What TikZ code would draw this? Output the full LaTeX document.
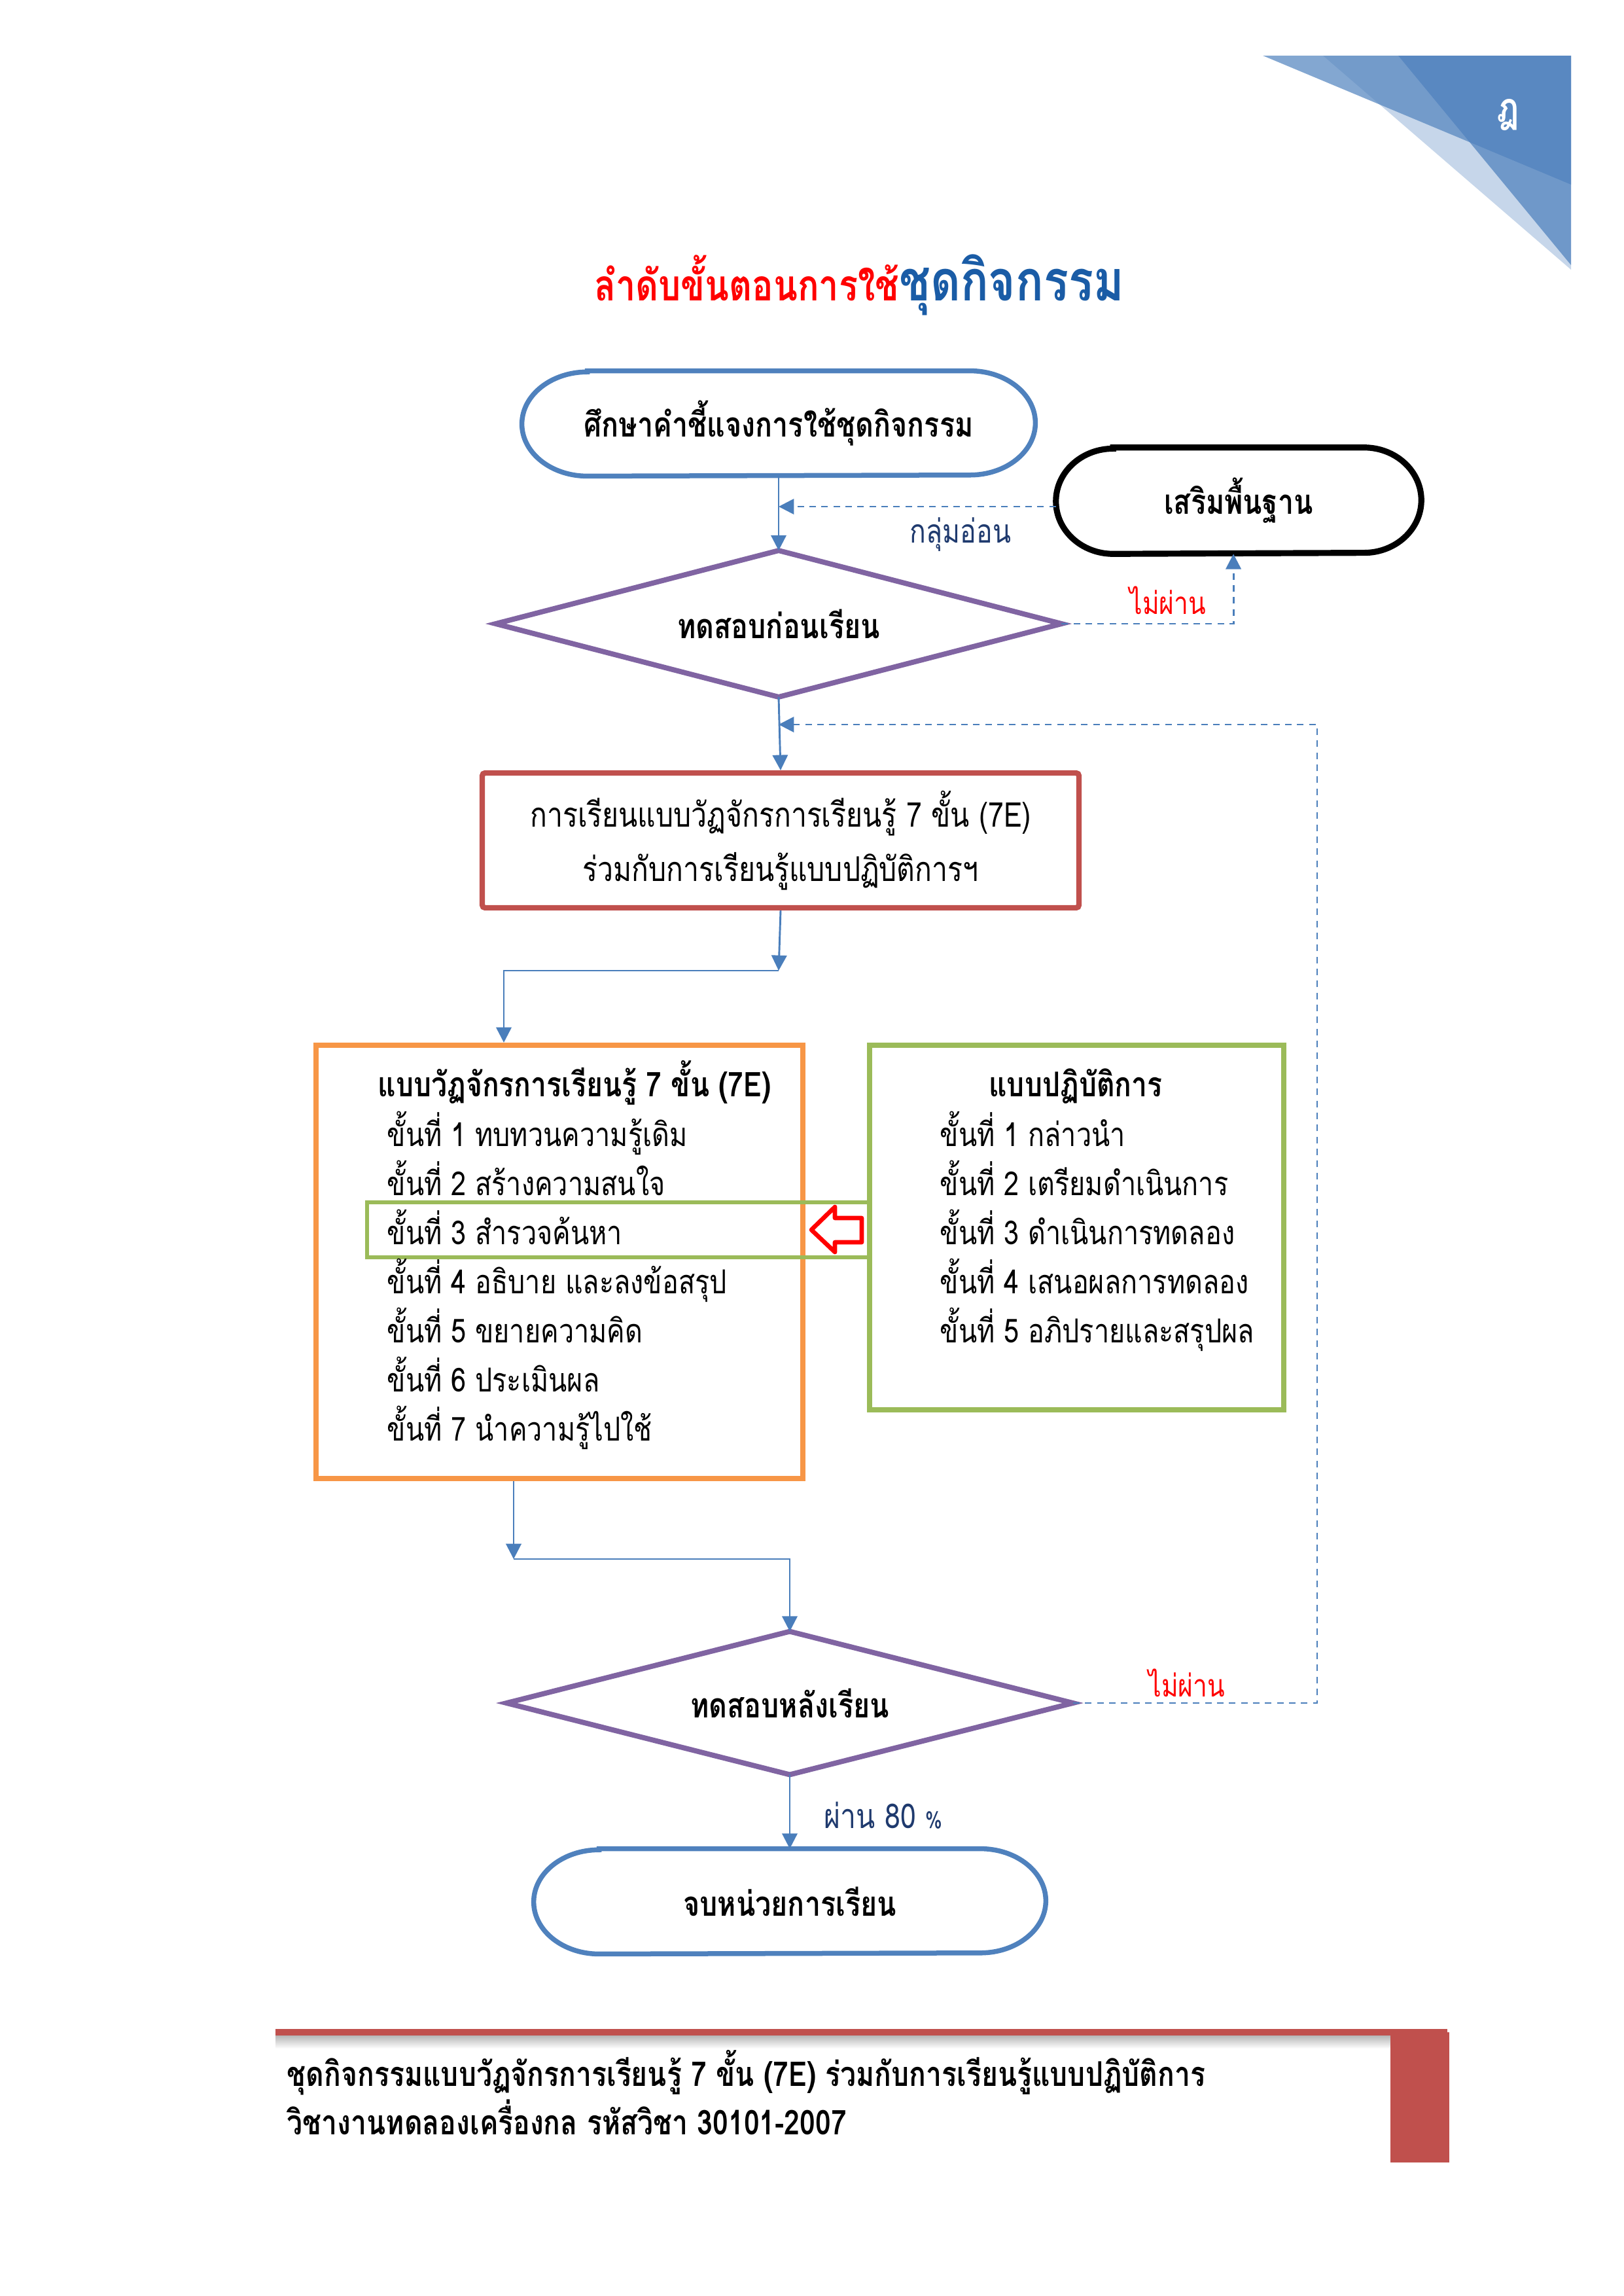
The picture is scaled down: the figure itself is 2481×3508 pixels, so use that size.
\documentclass[tikz,border=0pt]{standalone}
\usepackage{fontspec}
\setmainfont{Loma}[Script=Thai, FakeStretch=0.82]
\usetikzlibrary{arrows.meta,calc}
\definecolor{accblue}{HTML}{4F81BD}
\definecolor{connblue}{HTML}{4A7EBB}
\definecolor{accpurple}{HTML}{8064A2}
\definecolor{accred}{HTML}{C0504D}
\definecolor{accorange}{HTML}{F79646}
\definecolor{accgreen}{HTML}{9BBB59}
\definecolor{navy}{HTML}{1F3A6E}
\definecolor{titleblue}{HTML}{1A5CA6}
\definecolor{pureRed}{HTML}{FF0000}
\newcommand\drawterm[4]{%
  \draw[#1] ([xshift=#3]#2.north west) -- ([xshift=-#3]#2.north east)
    arc[start angle=90,end angle=-90,x radius=#3,y radius=#4]
    -- ([xshift=#3]#2.south west)
    arc[start angle=270,end angle=90,x radius=#3,y radius=#4] -- cycle;}
\newcommand\drawdiam[2]{%
  \draw[#1] (#2.north) -- (#2.east) -- (#2.south) -- (#2.west) -- cycle;}
\begin{document}
\begin{tikzpicture}[x=0.23994pt,y=-0.23994pt,
  txt/.style={font=\fontsize{12.1pt}{14pt}\selectfont, inner sep=0pt},
  btxt/.style={font=\fontsize{12.5pt}{14pt}\selectfont\bfseries, inner sep=0pt},
  shapebox/.style={rectangle, inner sep=0pt, font=\fontsize{12.6pt}{14pt}\selectfont\bfseries},
  conn/.style={draw=connblue, line width=0.7pt, -{Triangle[length=5.6pt,width=5.6pt]}},
  dconn/.style={conn, dash pattern=on 2.4pt off 2pt},
  termblue/.style={draw=accblue, line width=1.8pt},
  termblack/.style={draw=black, line width=2.2pt},
  diamline/.style={draw=accpurple, line width=1.9pt, line join=miter},
  itemtxt/.style={txt, anchor=base west},
]
\useasboundingbox (0,0) rectangle (2481,3508);

% corner decoration
\fill[accblue, opacity=0.32] (2022,85) -- (2401,85) -- (2401,412) -- cycle;
\fill[accblue, opacity=0.73] (2137,85) -- (2401,85) -- (2401,405) -- cycle;
\fill[accblue, opacity=0.70] (1930,85) -- (2401,85) -- (2401,282) -- cycle;
\node[inner sep=0pt, text=white, font=\fontsize{15pt}{16pt}\selectfont\bfseries] (pg) at (2305,176) {ฎ};

% title
\node[inner sep=0pt, anchor=base] (title) at (1313,459)
  {\fontsize{15.8pt}{18pt}\selectfont\bfseries\color{pureRed}ลำดับขั้นตอนการใช้\color{titleblue}\fontsize{20.7pt}{23pt}\selectfont ชุดกิจกรรม};

% shapes
\node[shapebox, minimum width=187.9pt, minimum height=38.2pt] (o1) at (1190,647) {ศึกษาคำชี้แจงการใช้ชุดกิจกรรม};
\drawterm{termblue}{o1}{24pt}{19.1pt}

\node[shapebox, minimum width=133.6pt, minimum height=38.6pt] (o2) at (1893,765) {เสริมพื้นฐาน};
\drawterm{termblack}{o2}{21pt}{19.3pt}

\node[shapebox, minimum width=207.1pt, minimum height=53.3pt] (d1) at (1190,953) {ทดสอบก่อนเรียน};
\drawdiam{diamline}{d1}

\node[rectangle, draw=accred, line width=2pt, rounded corners=1pt, minimum width=218.8pt, minimum height=49.4pt, align=center, font=\fontsize{12.5pt}{20pt}\selectfont, inner sep=0pt] (r1) at (1193,1284)
  {การเรียนแบบวัฏจักรการเรียนรู้ 7 ขั้น (7E)\\ร่วมกับการเรียนรู้แบบปฏิบัติการฯ};

\node[rectangle, draw=accorange, line width=2pt, minimum width=178.5pt, minimum height=158.8pt] (ob) at (855,1928) {};
\node[rectangle, draw=accgreen, line width=2pt, minimum width=151.9pt, minimum height=133.6pt] (gb) at (1645.5,1875.5) {};
\node[rectangle, draw=accgreen, line width=1.3pt, minimum width=184.3pt, minimum height=20.2pt] (hl) at (945,1879) {};

\node[btxt, anchor=base] (oh) at (878,1675) {แบบวัฏจักรการเรียนรู้ 7 ขั้น (7E)};
\node[btxt, anchor=base] (gh) at (1644,1675) {แบบปฏิบัติการ};
\foreach \t [count=\i] in {ขั้นที่ 1 ทบทวนความรู้เดิม, ขั้นที่ 2 สร้างความสนใจ, ขั้นที่ 3 สำรวจค้นหา, ขั้นที่ 4 อธิบาย และลงข้อสรุป, ขั้นที่ 5 ขยายความคิด, ขั้นที่ 6 ประเมินผล, ขั้นที่ 7 นำความรู้ไปใช้}
  \node[itemtxt] (e\i) at (591,{1751+(\i-1)*75}) {\t};
\foreach \t [count=\i] in {ขั้นที่ 1 กล่าวนำ, ขั้นที่ 2 เตรียมดำเนินการ, ขั้นที่ 3 ดำเนินการทดลอง, ขั้นที่ 4 เสนอผลการทดลอง, ขั้นที่ 5 อภิปรายและสรุปผล}
  \node[itemtxt] (p\i) at (1436,{1751+(\i-1)*75}) {\t};

% red block arrow
\draw[pureRed, line width=1.6pt, line join=round, fill=white]
  (1240,1879) -- (1276,1844) -- (1276,1861) -- (1317,1861) -- (1317,1898) -- (1276,1898) -- (1276,1913) -- cycle;

\node[shapebox, minimum width=207.3pt, minimum height=52.1pt] (d2) at (1207,2602) {ทดสอบหลังเรียน};
\drawdiam{diamline}{d2}

\node[shapebox, minimum width=187.4pt, minimum height=38.2pt] (o3) at (1207,2905) {จบหน่วยการเรียน};
\drawterm{termblue}{o3}{24pt}{19.1pt}

% connectors
\coordinate (j1) at (1190,774);
\coordinate (j2) at (1190,1483);
\coordinate (j3) at (770,1483);
\coordinate (j4) at (785,2382);
\coordinate (j5) at (1207,2382);
\coordinate (j6) at (2013,1107);
\coordinate (j7) at (1190,1107);

\draw[conn] (o1.south) -- (d1.north);
\draw[dconn] ($(o2.west)+(0,9)$) -- (j1);
\draw[dconn] (d1.east) -| ([xshift=-1.9pt]o2.south);
\draw[conn] (d1.south) -- (r1.north);
\draw[conn] (r1.south) -- (j2);
\draw[conn] (j2) -- (j3) -- (j3 |- ob.north);
\draw[conn] (j4 |- ob.south) -- (j4);
\draw[conn] (j4) -- (j5) -- (d2.north);
\draw[conn] (d2.south) -- (o3.north);
\draw[dconn] (d2.east) -| (j6) -- (j7);

% labels
\node[inner sep=0pt, font=\fontsize{12pt}{14pt}\selectfont, text=navy, anchor=base] (l1) at (1468,829) {กลุ่มอ่อน};
\node[inner sep=0pt, font=\fontsize{11.4pt}{14pt}\selectfont, text=pureRed, anchor=base] (l2) at (1785,938) {ไม่ผ่าน};
\node[inner sep=0pt, font=\fontsize{11.4pt}{14pt}\selectfont, text=pureRed, anchor=base] (l3) at (1814,2592) {ไม่ผ่าน};
\node[inner sep=0pt, font=\fontsize{12.5pt}{14pt}\selectfont, text=navy, anchor=base west] (l4) at (1259,2793) {ผ่าน 80 {\fontsize{8.5pt}{9pt}\selectfont\%}};

% footer
\shade[top color=black!30, bottom color=white] (421,3109) rectangle (2212,3130);
\fill[accred] (421,3100) rectangle (2212,3110);
\fill[accred] (2125,3105) rectangle (2215,3304);
\node[btxt, anchor=base west] (f1) at (438,3187) {ชุดกิจกรรมแบบวัฏจักรการเรียนรู้ 7 ขั้น (7E) ร่วมกับการเรียนรู้แบบปฏิบัติการ};
\node[btxt, anchor=base west] (f2) at (438,3261) {วิชางานทดลองเครื่องกล รหัสวิชา 30101-2007};
\end{tikzpicture}
\end{document}
